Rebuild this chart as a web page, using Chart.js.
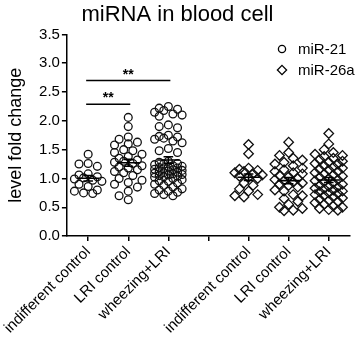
<!DOCTYPE html>
<html>
<head>
<meta charset="utf-8">
<script src="https://cdn.jsdelivr.net/npm/chart.js@4.4.1/dist/chart.umd.min.js"></script>
<style>
html, body { margin: 0; padding: 0; background: #fff; }
#wrap { width: 358px; height: 339px; }
</style>
</head>
<body>
<div id="wrap"><canvas id="chart"></canvas></div>
<script>
// category labels along x (slot 3 is the empty gap between the two miRNAs)
const groupLabels = ['indifferent control', 'LRI control', 'wheezing+LRI', '', 'indifferent control', 'LRI control', 'wheezing+LRI'];
const yTicks = [0, 0.5, 1, 1.5, 2, 2.5, 3, 3.5];
const seriesNames = ['miR-21', 'miR-26a'];

// miR-21 (circles)
const mir21Indifferent = [1.42, 1.26, 1.21, 1.25, 1.08, 1.06, 1.03, 1.01, 0.99, 0.97, 0.95, 0.90, 0.86, 0.80, 0.78, 0.74, 0.75];
const mir21LRI = [2.06, 1.90, 1.72, 1.68, 1.63, 1.60, 1.58, 1.50, 1.48, 1.45, 1.42, 1.38, 1.35, 1.32, 1.30, 1.28,
  1.26, 1.22, 1.20, 1.18, 1.15, 1.12, 1.10, 1.05, 1.00, 0.97, 0.93, 0.90, 0.85, 0.78, 0.70, 0.63];
const mir21Wheezing = [2.25, 2.22, 2.20, 2.18, 2.15, 2.12, 2.10, 2.08, 1.93, 1.90, 1.88, 1.75, 1.73, 1.72, 1.70, 1.68,
  1.65, 1.62, 1.52, 1.48, 1.45, 1.30, 1.28, 1.26, 1.25, 1.24, 1.22, 1.21, 1.20, 1.19, 1.18, 1.17, 1.16, 1.15, 1.14,
  1.13, 1.12, 1.11, 1.10, 1.09, 1.08, 1.07, 1.06, 1.05, 1.04, 1.03, 1.02, 1.00, 0.98, 0.96, 0.95, 0.92, 0.90, 0.88,
  0.85, 0.82, 0.80, 0.78, 0.76, 0.74, 0.72, 0.70];

// miR-26a (diamonds)
const mir26Indifferent = [1.59, 1.43, 1.18, 1.16, 1.14, 1.12, 1.10, 1.08, 1.06, 1.04, 1.02, 1.00, 0.92, 0.88, 0.82, 0.78, 0.72, 0.68, 0.70];
const mir26LRI = [1.63, 1.45, 1.40, 1.35, 1.32, 1.28, 1.25, 1.22, 1.18, 1.15, 1.12, 1.10, 1.08, 1.05, 1.03, 1.00,
  0.98, 0.96, 0.94, 0.92, 0.90, 0.88, 0.85, 0.80, 0.78, 0.72, 0.70, 0.65, 0.60, 0.55, 0.50, 0.48, 0.45, 0.44];
const mir26Wheezing = [1.78, 1.60, 1.50, 1.45, 1.42, 1.40, 1.38, 1.35, 1.33, 1.30, 1.28, 1.26, 1.25, 1.22, 1.20, 1.18,
  1.16, 1.15, 1.12, 1.10, 1.08, 1.06, 1.04, 1.02, 1.00, 0.98, 0.96, 0.94, 0.92, 0.90, 0.88, 0.86, 0.85, 0.83, 0.82,
  0.80, 0.78, 0.77, 0.75, 0.74, 0.72, 0.70, 0.68, 0.66, 0.64, 0.62, 0.60, 0.58, 0.55, 0.52, 0.50, 0.48, 0.46, 0.45];

// significance brackets: [from group, to group, height]
const sigFrom = [0, 0];
const sigTo = [1, 2];
const sigHeight = [2.29, 2.70];
const sigText = ['**', '**'];

const groups = [
  { pos: 0, values: mir21Indifferent, series: 0 },
  { pos: 1, values: mir21LRI, series: 0 },
  { pos: 2, values: mir21Wheezing, series: 0 },
  { pos: 4, values: mir26Indifferent, series: 1 },
  { pos: 5, values: mir26LRI, series: 1 },
  { pos: 6, values: mir26Wheezing, series: 1 },
];
const pointStyles = ['circle', 'rectRot'];
const pointRadii = [3.9, 4.8];

// spread dots sideways so they don't pile up (rough px-per-unit for spacing only)
const X_PX = 40.3, Y_PX = 57.1;
function swarm(values, center) {
  const placed = [];
  const sorted = values.slice().sort((a, b) => b - a);
  const steps = [0, -1, 1, -2, 2, -3, 3];
  sorted.forEach(v => {
    let best = 0, bestD = -1;
    for (const s of steps) {
      const px = s * 4.6;
      let d = Infinity;
      placed.forEach(p => { d = Math.min(d, Math.hypot(p.px - px, (p.v - v) * Y_PX)); });
      if (d >= 7) { best = px; bestD = d; break; }
      if (d > bestD) { bestD = d; best = px; }
    }
    placed.push({ px: best, v });
  });
  return placed.map(p => ({ x: center + p.px / X_PX, y: p.v }));
}

const mean = a => a.reduce((s, v) => s + v, 0) / a.length;
const sem = a => {
  const m = mean(a);
  return Math.sqrt(a.reduce((s, v) => s + (v - m) * (v - m), 0) / (a.length - 1)) / Math.sqrt(a.length);
};

const datasets = [];
groups.forEach(g => {
  datasets.push({
    type: 'scatter',
    label: seriesNames[g.series],
    data: swarm(g.values, g.pos),
    pointStyle: pointStyles[g.series],
    pointRadius: pointRadii[g.series],
    pointBorderWidth: 1.3,
    pointBorderColor: '#111',
    pointBackgroundColor: 'rgba(255,255,255,0)',
    order: 2,
  });
});
groups.forEach(g => {
  const m = mean(g.values), e = sem(g.values);
  datasets.push({
    type: 'line',
    label: 'mean',
    data: [
      { x: g.pos - 0.28, y: m }, { x: g.pos + 0.28, y: m }, { x: g.pos, y: null },
      { x: g.pos, y: m - e }, { x: g.pos, y: m + e }, { x: g.pos, y: null },
      { x: g.pos - 0.12, y: m + e }, { x: g.pos + 0.12, y: m + e }, { x: g.pos, y: null },
      { x: g.pos - 0.12, y: m - e }, { x: g.pos + 0.12, y: m - e },
    ],
    borderColor: '#000',
    borderWidth: 1.6,
    pointRadius: 0,
    spanGaps: false,
    fill: false,
    order: 1,
  });
});

const FONT = '"Liberation Sans", Arial, sans-serif';
const extras = {
  id: 'extras',
  afterDatasetsDraw(chart) {
    const { ctx, scales: { x, y } } = chart;
    ctx.save();
    ctx.strokeStyle = '#000';
    ctx.fillStyle = '#000';
    ctx.lineWidth = 1.5;
    sigHeight.forEach((h, i) => {
      const x0 = x.getPixelForValue(sigFrom[i] - 0.05);
      const x1 = x.getPixelForValue(sigTo[i] + 0.05);
      const py = y.getPixelForValue(h);
      ctx.beginPath();
      ctx.moveTo(x0, py);
      ctx.lineTo(x1, py);
      ctx.stroke();
      ctx.font = 'bold 14px ' + FONT;
      ctx.textAlign = 'center';
      ctx.textBaseline = 'alphabetic';
      ctx.fillText(sigText[i], (x0 + x1) / 2, py - 2);
    });
    // legend in the upper right of the plot
    ctx.font = '15px ' + FONT;
    ctx.textAlign = 'left';
    ctx.textBaseline = 'middle';
    ctx.lineWidth = 1.3;
    seriesNames.forEach((name, i) => {
      const lx = 282, ly = 49 + i * 21;
      ctx.beginPath();
      if (pointStyles[i] === 'circle') {
        ctx.arc(lx, ly, 3.6, 0, Math.PI * 2);
      } else {
        const r = 4.6;
        ctx.moveTo(lx, ly - r); ctx.lineTo(lx + r, ly); ctx.lineTo(lx, ly + r); ctx.lineTo(lx - r, ly); ctx.closePath();
      }
      ctx.stroke();
      ctx.fillText(name, lx + 16, ly + 1);
    });
    ctx.restore();
  }
};

new Chart(document.getElementById('chart'), {
  type: 'scatter',
  data: { datasets },
  plugins: [extras],
  options: {
    responsive: true,
    maintainAspectRatio: false,
    animation: false,
    layout: { padding: { left: 5, right: 8, top: 2, bottom: 0 } },
    plugins: {
      legend: { display: false },
      tooltip: { enabled: false },
      title: {
        display: true,
        text: 'miRNA in blood cell',
        color: '#000',
        font: { family: FONT, size: 22, weight: 'normal' },
        padding: { top: 0, bottom: 6 },
      },
    },
    scales: {
      x: {
        type: 'linear',
        min: -0.53,
        max: 6.53,
        afterBuildTicks: s => { s.ticks = groupLabels.map((_, i) => ({ value: i })); },
        ticks: {
          autoSkip: false,
          minRotation: 45,
          maxRotation: 45,
          color: '#000',
          padding: 2,
          font: { family: FONT, size: 15 },
          callback: v => groupLabels[v] ?? '',
        },
        grid: { drawOnChartArea: false, drawTicks: true, tickLength: 5, color: '#000', lineWidth: 1.5 },
        border: { display: true, color: '#000', width: 1.5 },
      },
      y: {
        min: 0,
        max: 3.5,
        afterBuildTicks: s => { s.ticks = yTicks.map(v => ({ value: v })); },
        ticks: {
          color: '#000',
          padding: 2,
          font: { family: FONT, size: 15 },
          callback: v => v.toFixed(1),
        },
        title: {
          display: true,
          text: 'level fold change',
          color: '#000',
          font: { family: FONT, size: 18 },
          padding: { top: 0, bottom: 10 },
        },
        grid: { drawOnChartArea: false, drawTicks: true, tickLength: 5, color: '#000', lineWidth: 1.5 },
        border: { display: true, color: '#000', width: 1.5 },
      },
    },
  },
});
</script>
</body>
</html>
